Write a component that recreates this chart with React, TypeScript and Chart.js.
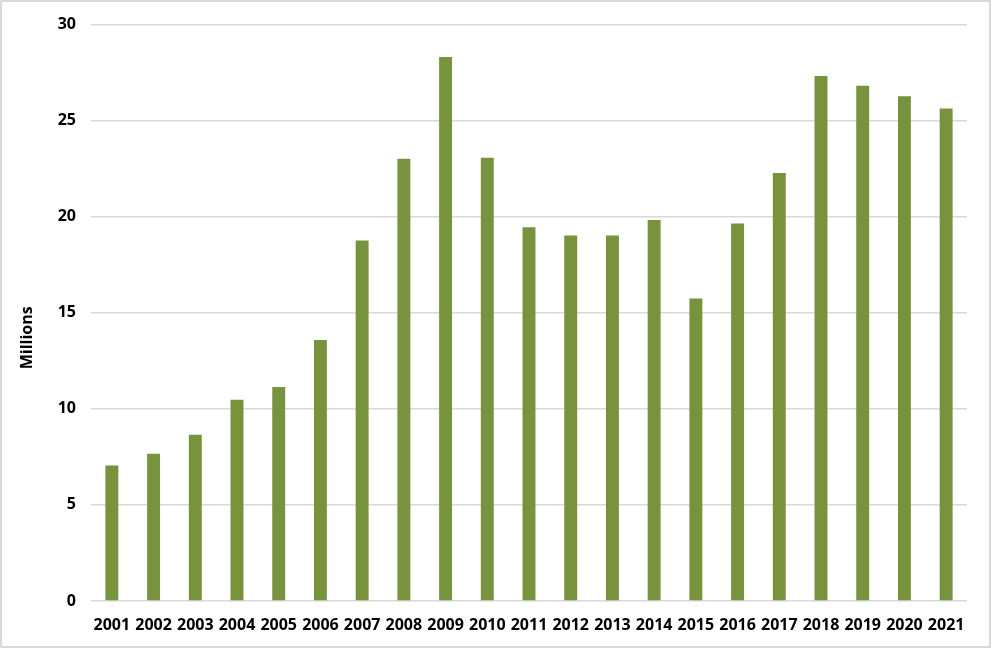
import React, { useEffect, useRef } from 'react';
import { Chart, registerables } from 'chart.js';

Chart.register(...registerables);

const years = [
  '2001', '2002', '2003', '2004', '2005', '2006', '2007', '2008', '2009', '2010', '2011',
  '2012', '2013', '2014', '2015', '2016', '2017', '2018', '2019', '2020', '2021',
];
const millions = [
  7.05, 7.67, 8.65, 10.47, 11.14, 13.58, 18.76, 23.02, 28.31, 23.07, 19.45,
  19.02, 19.02, 19.83, 15.75, 19.65, 22.28, 27.32, 26.82, 26.27, 25.63,
];
const yTicks = [0, 5, 10, 15, 20, 25, 30];

const fontFamily = "'Open Sans', 'Liberation Sans', sans-serif";
const textColor = '#000000';
const gridColor = '#d9d9d9';
const barColor = '#77933c';

// draws the rotated "Millions" label a bit below the axis middle, as the original does
const axisLabelPlugin = {
  id: 'axisLabel',
  afterDraw(chart: Chart) {
    const { ctx, chartArea } = chart;
    ctx.save();
    ctx.translate(27, (chartArea.top + chartArea.bottom) / 2 + 25);
    ctx.rotate(-Math.PI / 2);
    ctx.font = `bold 16px ${fontFamily}`;
    ctx.fillStyle = textColor;
    ctx.textAlign = 'center';
    ctx.textBaseline = 'middle';
    ctx.fillText('Millions', 0, 0);
    ctx.restore();
  },
};

const MillionsChart: React.FC = () => {
  const chartRef = useRef<HTMLCanvasElement>(null);
  const chartInstanceRef = useRef<Chart | null>(null);

  useEffect(() => {
    if (!chartRef.current) return;
    const ctx = chartRef.current.getContext('2d');
    if (!ctx) return;

    chartInstanceRef.current = new Chart(ctx, {
      type: 'bar',
      data: {
        labels: years,
        datasets: [{
          label: 'Millions',
          data: millions,
          backgroundColor: barColor,
          borderWidth: 0,
          barPercentage: 0.62,
          categoryPercentage: 0.5,
        }],
      },
      options: {
        animation: false,
        responsive: true,
        maintainAspectRatio: false,
        layout: { padding: { top: 22, right: 24, bottom: 15, left: 0 } },
        plugins: {
          legend: { display: false },
          tooltip: { enabled: false },
        },
        scales: {
          x: {
            afterFit: (scale: any) => { scale.height = 32; },
            grid: { display: false, drawTicks: false },
            border: { display: false },
            ticks: {
              color: textColor,
              padding: 15,
              maxRotation: 0,
              autoSkip: false,
              font: { family: fontFamily, size: 16, weight: 'bold' },
            },
          },
          y: {
            min: 0,
            max: 30,
            afterFit: (scale: any) => { scale.width = 91; },
            afterBuildTicks: (scale: any) => { scale.ticks = yTicks.map(v => ({ value: v })); },
            grid: { color: gridColor, lineWidth: 1.5, drawTicks: false },
            border: { display: false },
            ticks: {
              color: textColor,
              padding: 15,
              font: { family: fontFamily, size: 16, weight: 'bold' },
            },
          },
        },
      },
      plugins: [axisLabelPlugin],
    });

    return () => {
      if (chartInstanceRef.current) {
        chartInstanceRef.current.destroy();
        chartInstanceRef.current = null;
      }
    };
  }, []);

  return <canvas ref={chartRef} aria-label="Millions per year"></canvas>;
};

export default function App() {
  return (
    <div style={{
      position: 'absolute', left: 0, top: 0, width: 991, height: 648,
      boxSizing: 'border-box', border: `2px solid ${gridColor}`, background: '#fff',
    }}>
      <div style={{ position: 'absolute', left: -2, top: -2, width: 991, height: 648 }}>
        <MillionsChart />
      </div>
    </div>
  );
}
